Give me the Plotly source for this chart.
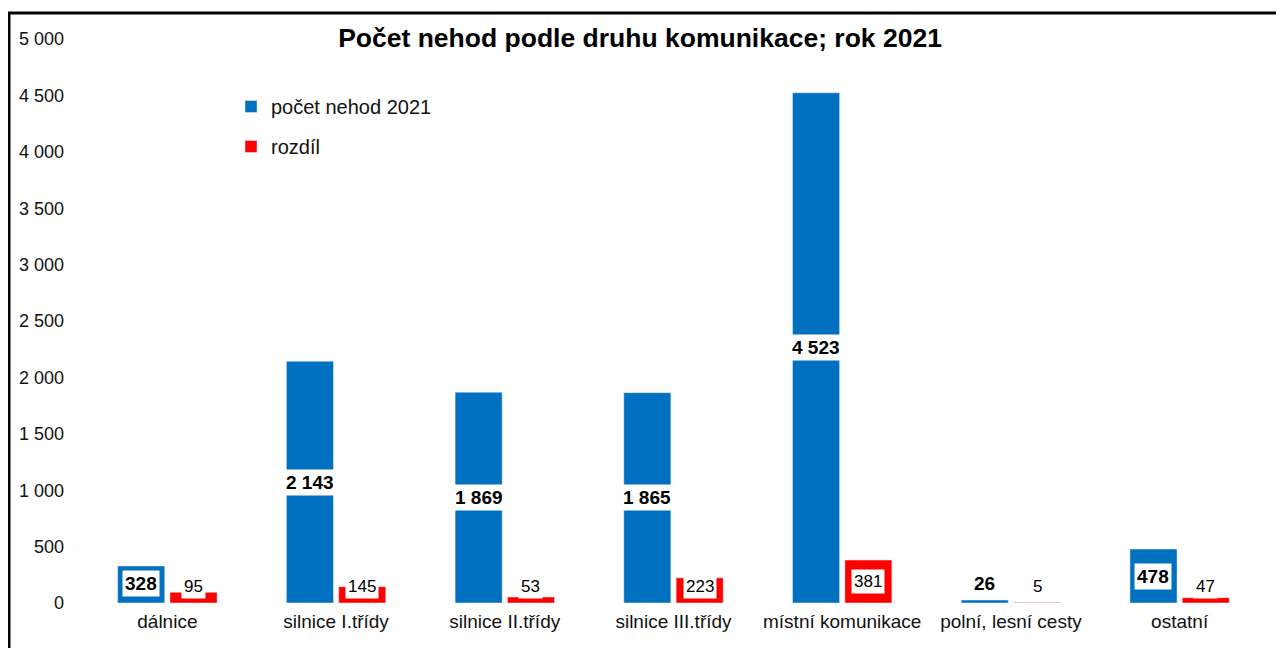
import plotly.graph_objects as go

categories = ["dálnice", "silnice I.třídy", "silnice II.třídy", "silnice III.třídy",
              "místní komunikace", "polní, lesní cesty", "ostatní"]
pocet_2021 = [328, 2143, 1869, 1865, 4523, 26, 478]
rozdil = [95, 145, 53, 223, 381, 5, 47]
tick_vals = [0, 500, 1000, 1500, 2000, 2500, 3000, 3500, 4000, 4500, 5000]

BLUE = "#0070C0"
RED = "#FF0000"
FONT = "Arial, Liberation Sans, sans-serif"
BARGAP = 0.38
BARGROUPGAP = 0.10

# page body has an 8px margin, so the figure is 8px smaller than the window
W, H = 1276, 640
ML, MT, MB, MR = 75, 31, 45, 20
PW = W - ML - MR
PH = H - MT - MB

fig = go.Figure()
fig.add_trace(go.Bar(x=categories, y=pocet_2021, name="počet nehod 2021",
                     marker_color=BLUE, legendgroup="a"))
fig.add_trace(go.Bar(x=categories, y=rozdil, name="rozdíl",
                     marker_color=RED, legendgroup="b"))

def fmt(v):
    return f"{v:,}".replace(",", " ")

slot = (1 - BARGAP) / 2
annotations = []
for i, (b, r) in enumerate(zip(pocet_2021, rozdil)):
    annotations.append(dict(x=i - slot / 2, y=max(b / 2, 170), xref="x", yref="y",
                            text=f"<b>{fmt(b)}</b>", showarrow=False,
                            font=dict(size=19, color="black", family=FONT),
                            bgcolor="white", borderpad=2, yanchor="middle"))
    annotations.append(dict(x=i + slot / 2, y=max(r / 2, 150), xref="x", yref="y",
                            text=fmt(r), showarrow=False,
                            font=dict(size=17, color="black", family=FONT),
                            bgcolor="white", borderpad=2, yanchor="middle"))

fig.update_layout(
    width=W, height=H,
    margin=dict(l=ML, r=MR, t=MT, b=MB),
    paper_bgcolor="white", plot_bgcolor="white",
    font=dict(family=FONT, color="black"),
    separators=", ",
    barmode="group", bargap=BARGAP, bargroupgap=BARGROUPGAP,
    title=dict(text="<b>Počet nehod podle druhu komunikace; rok 2021</b>",
               x=(640 - 8) / W, xref="container", y=1 - 30 / H, yref="container",
               xanchor="center", yanchor="middle",
               font=dict(size=26.5, family=FONT, color="black")),
    legend=dict(x=(223 - ML) / PW, y=(PH - 48) / PH, xanchor="left", yanchor="top",
                font=dict(size=20, family=FONT, color="#111"),
                bgcolor="rgba(0,0,0,0)", tracegroupgap=11, itemwidth=30),
    annotations=annotations,
    shapes=[dict(type="rect", xref="paper", yref="paper",
                 x0=(1 - ML) / PW, x1=1.2, y0=-0.3, y1=(PH + MT - 5) / PH,
                 line=dict(color="black", width=3), layer="above")],
)
fig.update_xaxes(showgrid=False, showline=False, ticks="", ticklabelstandoff=5,
                 tickfont=dict(size=19, family=FONT, color="#111"))
fig.update_yaxes(range=[0, 5000], tickvals=tick_vals, showgrid=False, zeroline=False,
                 showline=False, ticks="", ticklabelstandoff=18,
                 tickformat=",d", tickfont=dict(size=18, family=FONT, color="#111"))

fig.write_html("out.html")
